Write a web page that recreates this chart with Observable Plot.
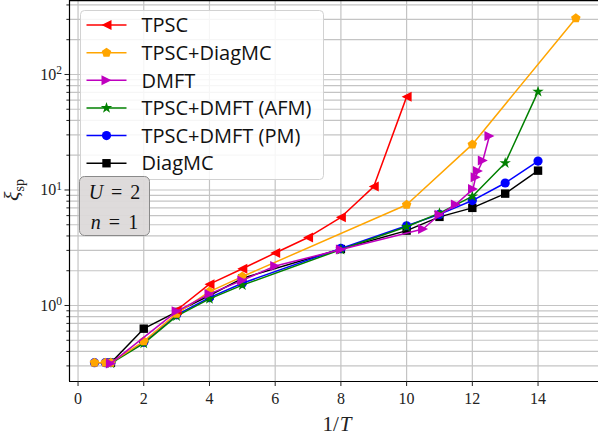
<!DOCTYPE html>
<html>
<head>
<meta charset="utf-8">
<script src="https://cdn.jsdelivr.net/npm/d3@7"></script>
<script src="https://cdn.jsdelivr.net/npm/@observablehq/plot@0.6"></script>
<style>
  html, body { margin: 0; padding: 0; background: #fff; width: 598px; height: 441px; overflow: hidden; }
  #chart svg { display: block; }
</style>
</head>
<body>
<div id="chart"></div>
<script>
// ---- data ----
const seriesNames = ["TPSC", "TPSC+DiagMC", "DMFT", "TPSC+DMFT (AFM)", "TPSC+DMFT (PM)", "DiagMC"];
const seriesColors = ["#ff0000", "#ffa500", "#bf00bf", "#008000", "#0000ff", "#000000"];

const tpscX = [3, 4, 5, 6, 7, 8, 9, 10];
const tpscY = [0.91, 1.53, 2.08, 2.85, 3.88, 5.8, 10.7, 64];

const tpscDiagX = [0.5, 0.83, 1, 2, 3, 4, 5, 10, 12, 15.15];
const tpscDiagY = [0.32, 0.32, 0.32, 0.49, 0.85, 1.32, 1.78, 7.45, 24.8, 307];

const dmftX = [1, 3, 4, 5, 6, 8, 10.5, 11, 11.5, 12.02, 12.1, 12.17, 12.32, 12.52];
const dmftY = [0.315, 0.89, 1.26, 1.65, 2.2, 3.05, 4.6, 6.1, 7.5, 10.2, 12.9, 14.6, 18.0, 29.3];

const afmX = [1, 2, 3, 4, 5, 8, 10, 11, 12, 13, 14];
const afmY = [0.315, 0.47, 0.81, 1.14, 1.5, 3.05, 4.8, 6.3, 8.8, 17.1, 71];

const pmX = [0.5, 0.83, 1, 2, 3, 4, 5, 8, 10, 11, 12, 13, 14];
const pmY = [0.32, 0.32, 0.32, 0.48, 0.83, 1.17, 1.56, 3.12, 4.9, 6.15, 8.1, 11.5, 17.8];

const diagX = [1, 2, 3, 4, 5, 8, 10, 11, 12, 13, 14];
const diagY = [0.32, 0.63, 0.88, 1.22, 1.72, 3.08, 4.45, 5.85, 7.0, 9.3, 14.7];

const xTicks = [0, 2, 4, 6, 8, 10, 12, 14];
const yMajorTicks = [1, 10, 100];
const yMinorTicks = [0.3, 0.4, 0.5, 0.6, 0.7, 0.8, 0.9, 2, 3, 4, 5, 6, 7, 8, 9, 20, 30, 40, 50, 60, 70, 80, 90, 200, 300, 400];
const xDomain = [-0.26, 15.84];
const yDomain = [0.2198, 437];

// ---- custom matplotlib-like marker symbols ----
const symLeft = { draw(ctx, size) { const r = Math.sqrt(size / Math.PI);
  ctx.moveTo(-r, 0); ctx.lineTo(r, -r); ctx.lineTo(r, r); ctx.closePath(); } };
const symRight = { draw(ctx, size) { const r = Math.sqrt(size / Math.PI);
  ctx.moveTo(r, 0); ctx.lineTo(-r, r); ctx.lineTo(-r, -r); ctx.closePath(); } };
const symPentagon = { draw(ctx, size) { const r = Math.sqrt(size / Math.PI);
  for (let i = 0; i < 5; i++) { const a = -Math.PI / 2 + i * 2 * Math.PI / 5;
    const px = r * Math.cos(a), py = r * Math.sin(a); i ? ctx.lineTo(px, py) : ctx.moveTo(px, py); }
  ctx.closePath(); } };
const symStar = { draw(ctx, size) { const r = Math.sqrt(size / Math.PI), ri = r * 0.381966;
  for (let i = 0; i < 10; i++) { const a = -Math.PI / 2 + i * Math.PI / 5; const rr = i % 2 ? ri : r;
    const px = rr * Math.cos(a), py = rr * Math.sin(a); i ? ctx.lineTo(px, py) : ctx.moveTo(px, py); }
  ctx.closePath(); } };
const symCircle = { draw(ctx, size) { const r = Math.sqrt(size / Math.PI);
  ctx.moveTo(r, 0); ctx.arc(0, 0, r, 0, 2 * Math.PI); } };
const symSquare = { draw(ctx, size) { const r = Math.sqrt(size / Math.PI);
  ctx.rect(-r, -r, 2 * r, 2 * r); } };

const seriesSymbols = [symLeft, symPentagon, symRight, symStar, symCircle, symSquare];
const seriesR = [5, 5, 5, 6, 4.6, 4.2];
const seriesXs = [tpscX, tpscDiagX, dmftX, afmX, pmX, diagX];
const seriesYs = [tpscY, tpscDiagY, dmftY, afmY, pmY, diagY];

const series = seriesNames.map((name, i) => ({
  name, color: seriesColors[i], symbol: seriesSymbols[i], r: seriesR[i],
  data: seriesXs[i].map((x, j) => ({ x, y: seriesYs[i][j] }))
}));

// drawing order (bottom to top)
const drawOrder = [5, 4, 3, 1, 0, 2];

const gridStyle = { stroke: "#c4c4c4", strokeOpacity: 1, strokeWidth: 1.2 };

const marks = [
  Plot.gridY(yMinorTicks.concat(yMajorTicks), gridStyle),
  Plot.gridX(xTicks, gridStyle),
];
for (const i of drawOrder) {
  const s = series[i];
  marks.push(Plot.line(s.data, { x: "x", y: "y", stroke: s.color, strokeWidth: 1.5 }));
  marks.push(Plot.dot(s.data, { x: "x", y: "y", symbol: s.symbol, r: s.r, fill: s.color, stroke: "none" }));
}
marks.push(
  Plot.ruleX([xDomain[0]], { stroke: "black", strokeWidth: 1.2 }),
  Plot.ruleY([yDomain[0]], { stroke: "black", strokeWidth: 1.2 }),
  Plot.ruleY([yDomain[1]], { stroke: "black", strokeWidth: 1.5 }),
  Plot.axisX(xTicks, { tickSize: 5, tickPadding: 6, fontSize: 16, label: null, tickFormat: d => String(d) }),
  Plot.axisY(yMajorTicks, { tickSize: 4.5, tickPadding: 3, fontSize: 16, label: null, tickFormat: d => "10^" + Math.round(Math.log10(d)) }),
  Plot.axisY(yMinorTicks, { tickSize: 2.6, label: null, tickFormat: () => "" })
);

const chart = Plot.plot({
  width: 598, height: 441,
  marginLeft: 69, marginRight: 0, marginTop: 0, marginBottom: 60,
  x: { domain: xDomain },
  y: { type: "log", domain: yDomain },
  style: { fontFamily: "'Liberation Serif', 'DejaVu Serif', serif", fontSize: "16px", color: "#222", background: "white" },
  marks
});
document.getElementById("chart").appendChild(chart);

const svg = d3.select(chart);

// superscript exponents on y tick labels
svg.selectAll('g[aria-label="y-axis tick label"] text').each(function () {
  const t = d3.select(this);
  const txt = t.text();
  if (!txt.startsWith("10^")) return;
  const exp = txt.slice(3);
  t.text(null);
  t.append("tspan").text("10");
  t.append("tspan").attr("dy", "-0.45em").attr("font-size", "11.5px").text(exp);
});

// axis labels
svg.append("text")
  .attr("transform", "translate(19,190) rotate(-90)")
  .attr("text-anchor", "middle")
  .attr("font-family", "'Liberation Serif', serif")
  .call(t => {
    t.append("tspan").attr("font-size", "22px").attr("font-style", "italic").text("ξ");
    t.append("tspan").attr("font-size", "14px").attr("dy", "5").text("sp");
  });
svg.append("text")
  .attr("x", 337).attr("y", 431)
  .attr("text-anchor", "middle")
  .attr("font-family", "'Liberation Serif', serif")
  .attr("font-size", "21px")
  .call(t => {
    t.append("tspan").text("1/");
    t.append("tspan").attr("font-style", "italic").attr("dx", "1").text("T");
  });

// legend
const lg = svg.append("g").attr("text-anchor", "start");
lg.append("rect").attr("x", 80.5).attr("y", 10.5).attr("width", 243).attr("height", 169)
  .attr("rx", 4).attr("fill", "white").attr("fill-opacity", 0.85).attr("stroke", "#d2d2d2").attr("stroke-width", 1);
series.forEach((s, i) => {
  const yy = 25 + i * 27.65;
  lg.append("line").attr("x1", 86.5).attr("x2", 126.5).attr("y1", yy).attr("y2", yy)
    .attr("stroke", s.color).attr("stroke-width", 1.5);
  lg.append("path").attr("transform", `translate(106.5,${yy})`)
    .attr("d", d3.symbol().type(s.symbol).size(Math.PI * s.r * s.r)())
    .attr("fill", s.color);
  lg.append("text").attr("x", 141.5).attr("y", yy).attr("dy", "0.36em")
    .attr("text-anchor", "start")
    .attr("font-family", "'Open Sans', sans-serif").attr("font-size", "20px").attr("fill", "#111")
    .text(s.name);
});

// U / n annotation box
const ub = svg.append("g");
ub.append("rect").attr("x", 79.5).attr("y", 176.5).attr("width", 70).attr("height", 59)
  .attr("rx", 5).attr("fill", "#dcd9d9").attr("fill-opacity", 0.95).attr("stroke", "#8a8a8a").attr("stroke-width", 1);
[["U", "2", 199], ["n", "1", 229]].forEach(([v, val, yy]) => {
  const t = ub.append("text").attr("x", 114.5).attr("y", yy).attr("text-anchor", "middle")
    .attr("font-family", "'Liberation Serif', serif").attr("font-size", "20px").attr("fill", "#111")
    .attr("word-spacing", "3px");
  t.append("tspan").attr("font-style", "italic").text(v);
  t.append("tspan").text(" = " + val);
});
</script>
</body>
</html>
